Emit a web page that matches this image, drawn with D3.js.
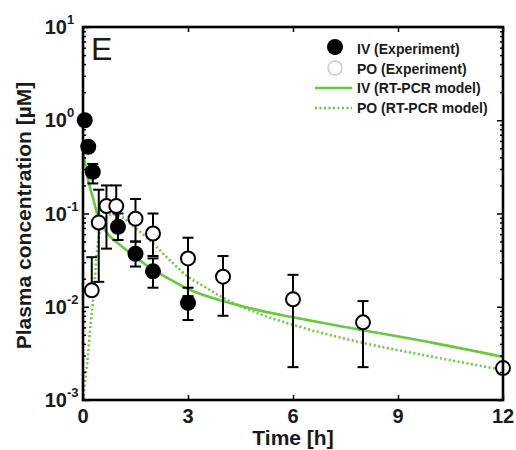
<!DOCTYPE html>
<html>
<head>
<meta charset="utf-8">
<script src="https://cdn.jsdelivr.net/npm/d3@7"></script>
<style>
body { margin: 0; background: #fff; }
text { font-family: "Liberation Sans", Arial, sans-serif; fill: #1a1a1a; }
.bold { font-weight: bold; }
</style>
</head>
<body>
<svg id="chart" width="516" height="450"></svg>
<script>
// IV (Experiment): time [h], mean and error range [uM]
var ivTime = [0.05, 0.15, 0.28, 1, 1.5, 2, 3];
var ivMean = [1.0, 0.52, 0.28, 0.072, 0.037, 0.024, 0.011];
var ivLow  = [1.0, 0.52, 0.21, 0.052, 0.027, 0.016, 0.0072];
var ivHigh = [1.0, 0.52, 0.34, 0.10, 0.05, 0.033, 0.016];

// PO (Experiment)
var poTime = [0.25, 0.45, 0.67, 0.95, 1.5, 2, 3, 4, 6, 8, 12];
var poMean = [0.015, 0.08, 0.12, 0.12, 0.088, 0.061, 0.033, 0.021, 0.012, 0.0068, 0.0022];
var poLow  = [0.015, 0.0185, 0.042, 0.07, 0.05, 0.035, 0.013, 0.008, 0.00225, 0.00225, 0.0022];
var poHigh = [0.034, 0.18, 0.2, 0.2, 0.143, 0.10, 0.055, 0.035, 0.022, 0.0115, 0.0022];

// IV (RT-PCR model)
var ivModelTime = [0, 0.1, 0.2, 0.3, 0.4, 0.5, 0.75, 1, 1.5, 2, 2.5, 3, 4, 5, 6, 8, 10, 12];
var ivModelConc = [0.48, 0.28, 0.19, 0.14, 0.1, 0.08, 0.058, 0.048, 0.034, 0.025, 0.0195, 0.0155, 0.0115, 0.0092, 0.0077, 0.0056, 0.0041, 0.0029];

// PO (RT-PCR model)
var poModelTime = [0, 0.05, 0.14, 0.2, 0.3, 0.4, 0.5, 0.65, 0.85, 1.1, 1.4, 1.9, 2.5, 3, 3.4, 4, 5, 6, 8, 10, 12];
var poModelConc = [0.001, 0.0015, 0.003, 0.0055, 0.013, 0.04, 0.07, 0.09, 0.098, 0.092, 0.075, 0.052, 0.031, 0.021, 0.017, 0.0125, 0.0085, 0.0064, 0.0041, 0.0029, 0.0021];

var xTicks = [0, 3, 6, 9, 12];
var yDecades = [-3, -2, -1, 0, 1];
var legendLabels = ["IV (Experiment)", "PO (Experiment)", "IV (RT-PCR model)", "PO (RT-PCR model)"];

var green = "#69c83c";
var margin = {top: 27, left: 83, right: 13, bottom: 50},
    width = 516 - margin.left - margin.right,
    height = 450 - margin.top - margin.bottom;

var svg = d3.select("#chart");
var g = svg.append("g").attr("transform", "translate(" + margin.left + "," + margin.top + ")");

var x = d3.scaleLinear().domain([0, 12]).range([0, width]);
var y = d3.scaleLog().domain([1e-3, 10]).range([height, 0]);

var majors = yDecades.map(function(d) { return Math.pow(10, d); });
var minors = y.ticks().filter(function(v) {
  return Math.abs(Math.log10(v) - Math.round(Math.log10(v))) > 1e-6;
});

g.append("clipPath").attr("id", "clip")
  .append("rect").attr("width", width).attr("height", height);

// model curves
var line = d3.line()
  .x(function(d) { return x(d[0]); })
  .y(function(d) { return y(d[1]); })
  .curve(d3.curveMonotoneX);

g.append("path")
  .datum(d3.zip(ivModelTime, ivModelConc))
  .attr("clip-path", "url(#clip)")
  .attr("d", line)
  .attr("fill", "none").attr("stroke", green).attr("stroke-width", 2.6);

g.append("path")
  .datum(d3.zip(poModelTime, poModelConc))
  .attr("clip-path", "url(#clip)")
  .attr("d", line)
  .attr("fill", "none").attr("stroke", green).attr("stroke-width", 2.6)
  .attr("stroke-dasharray", "2,2.5");

// error bars
function errorBars(times, lo, hi) {
  var eb = g.append("g").attr("stroke", "#000").attr("stroke-width", 2);
  times.forEach(function(t, i) {
    if (hi[i] === lo[i]) return;
    var cx = x(t);
    eb.append("line").attr("x1", cx).attr("x2", cx).attr("y1", y(lo[i])).attr("y2", y(hi[i]));
    [lo[i], hi[i]].forEach(function(v) {
      eb.append("line").attr("x1", cx - 5.5).attr("x2", cx + 5.5).attr("y1", y(v)).attr("y2", y(v));
    });
  });
}
errorBars(ivTime, ivLow, ivHigh);
errorBars(poTime, poLow, poHigh);

g.selectAll(".iv").data(d3.zip(ivTime, ivMean)).enter().append("circle")
  .attr("cx", function(d) { return x(d[0]); })
  .attr("cy", function(d) { return y(d[1]); })
  .attr("r", 8).attr("fill", "#000");

g.selectAll(".po").data(d3.zip(poTime, poMean)).enter().append("circle")
  .attr("cx", function(d) { return x(d[0]); })
  .attr("cy", function(d) { return y(d[1]); })
  .attr("r", 7).attr("fill", "#fff").attr("stroke", "#000").attr("stroke-width", 2);

// axes (ticks point inward)
function styleAxis(sel) {
  sel.select(".domain").remove();
  sel.selectAll("line").attr("stroke", "#000").attr("stroke-width", 1.5);
  sel.selectAll("text").remove();
}
g.append("g").attr("transform", "translate(0," + height + ")")
  .call(d3.axisBottom(x).tickValues(xTicks).tickSize(-5)).call(styleAxis);
g.append("g")
  .call(d3.axisTop(x).tickValues(xTicks).tickSize(-5)).call(styleAxis);
g.append("g").call(d3.axisLeft(y).tickValues(majors).tickSize(-6)).call(styleAxis);
g.append("g").call(d3.axisLeft(y).tickValues(minors).tickSize(-3)).call(styleAxis);
g.append("g").attr("transform", "translate(" + width + ",0)")
  .call(d3.axisRight(y).tickValues(majors).tickSize(-6)).call(styleAxis);
g.append("g").attr("transform", "translate(" + width + ",0)")
  .call(d3.axisRight(y).tickValues(minors).tickSize(-3)).call(styleAxis);

g.append("rect").attr("width", width).attr("height", height)
  .attr("fill", "none").attr("stroke", "#000").attr("stroke-width", 2.6);

// tick labels
g.selectAll(".xlab").data(xTicks).enter().append("text")
  .attr("class", "bold")
  .attr("x", function(d) { return x(d); })
  .attr("y", height + 23)
  .attr("text-anchor", "middle")
  .style("font-size", "20px")
  .text(function(d) { return d; });

yDecades.forEach(function(e) {
  var yy = y(Math.pow(10, e));
  g.append("text").attr("class", "bold")
    .attr("x", -16).attr("y", yy + 7)
    .attr("text-anchor", "end").style("font-size", "20px").text("10");
  g.append("text").attr("class", "bold")
    .attr("x", -16).attr("y", yy - 3)
    .attr("text-anchor", "start").style("font-size", "13px").text(e);
});

// axis titles
g.append("text").attr("class", "bold")
  .attr("x", width / 2).attr("y", height + 45)
  .attr("text-anchor", "middle").style("font-size", "21px")
  .text("Time [h]");

g.append("text").attr("class", "bold")
  .attr("transform", "translate(" + (-52) + "," + (height / 2 + 2) + ") rotate(-90)")
  .attr("text-anchor", "middle").style("font-size", "21px")
  .text("Plasma concentration [µM]");

// panel letter
g.append("text").attr("x", 8).attr("y", 33)
  .style("font-size", "32px").text("E");

// legend
var lg = svg.append("g");
var rowY = [49, 69, 88, 108];
lg.append("circle").attr("cx", 335).attr("cy", rowY[0] - 2).attr("r", 8).attr("fill", "#000");
lg.append("circle").attr("cx", 335).attr("cy", rowY[1] - 1).attr("r", 7)
  .attr("fill", "#fff").attr("stroke", "#c8c8c8").attr("stroke-width", 1.3);
lg.append("line").attr("x1", 315).attr("x2", 352).attr("y1", rowY[2]).attr("y2", rowY[2])
  .attr("stroke", green).attr("stroke-width", 2.6);
lg.append("line").attr("x1", 315).attr("x2", 352).attr("y1", rowY[3]).attr("y2", rowY[3])
  .attr("stroke", green).attr("stroke-width", 2.6).attr("stroke-dasharray", "2,2.5");
legendLabels.forEach(function(s, i) {
  lg.append("text").attr("class", "bold")
    .attr("x", 357).attr("y", rowY[i] + 5)
    .style("font-size", "14px").text(s);
});
</script>
</body>
</html>
